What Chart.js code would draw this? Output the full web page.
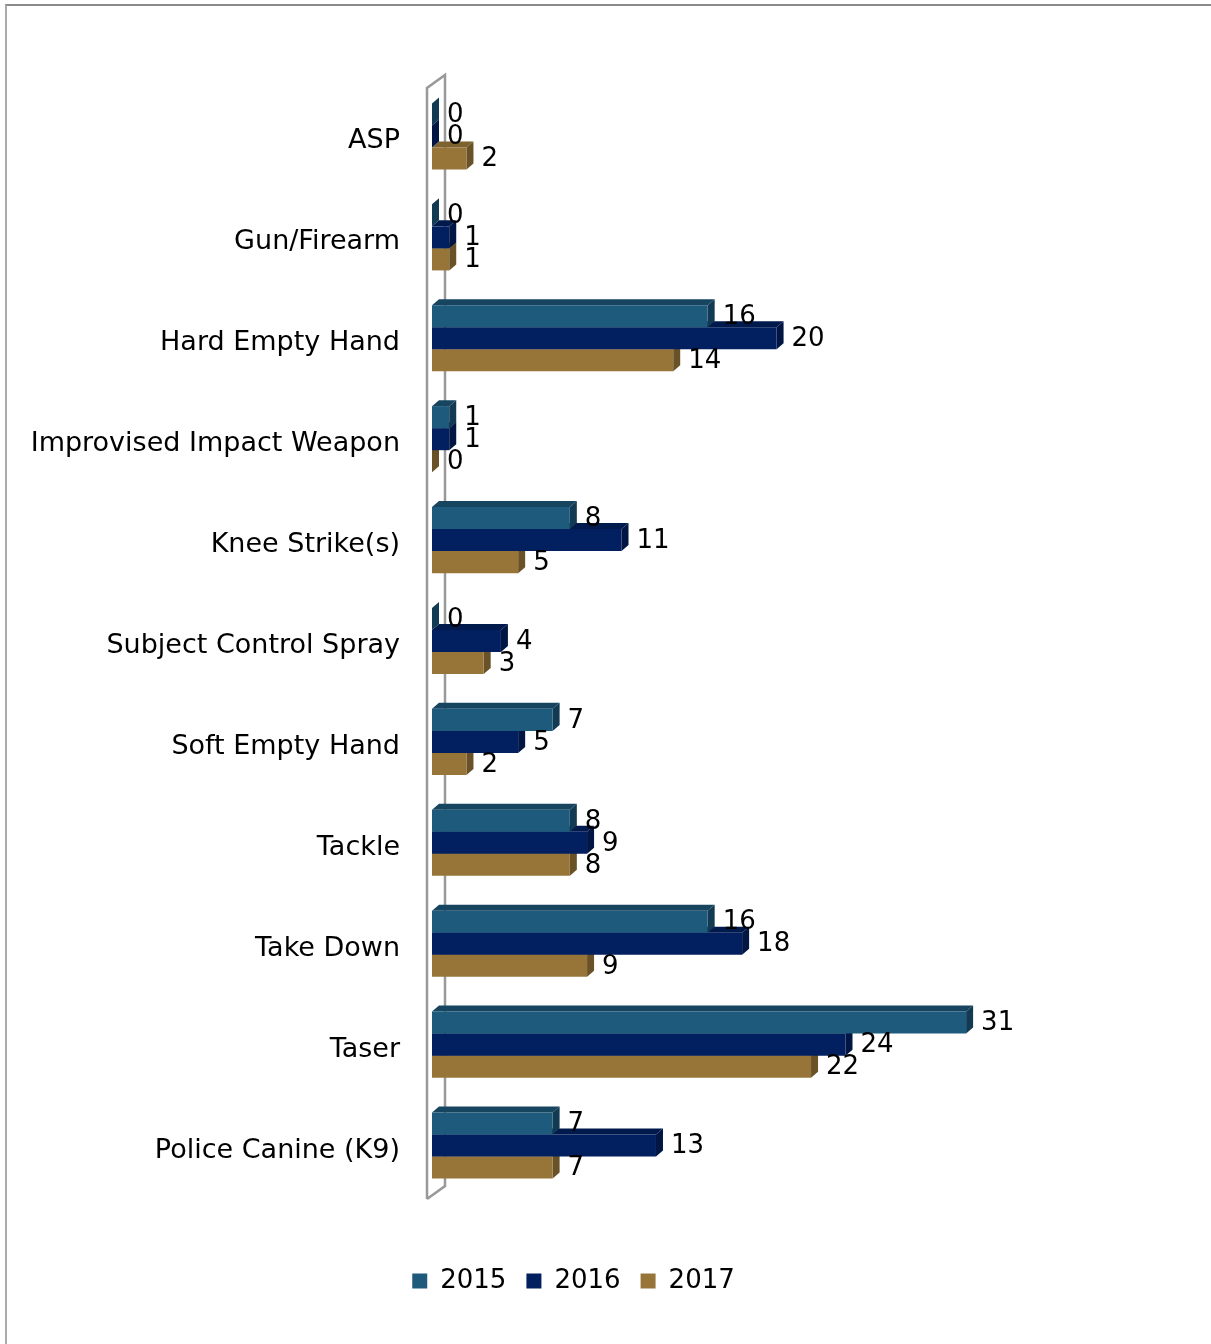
<!DOCTYPE html>
<html>
<head>
<meta charset="utf-8">
<script src="https://cdn.jsdelivr.net/npm/chart.js@4.4.1/dist/chart.umd.min.js"></script>
<style>
  html, body { margin: 0; padding: 0; background: #fff; overflow: hidden; }
  #frame { position: absolute; left: 5px; top: 4px; width: 1400px; height: 1500px;
           border-top: 2px solid #8a8a8a; border-left: 2px solid #ababab; }
  #wrap { position: absolute; left: 0; top: 0; }
</style>
</head>
<body>
<div id="frame"></div>
<div id="wrap"><canvas id="forceChart" width="1211" height="1344"></canvas></div>
<script>
const categories = [
  "ASP",
  "Gun/Firearm",
  "Hard Empty Hand",
  "Improvised Impact Weapon",
  "Knee Strike(s)",
  "Subject Control Spray",
  "Soft Empty Hand",
  "Tackle",
  "Take Down",
  "Taser",
  "Police Canine (K9)"
];
const years = ["2015", "2016", "2017"];
const values2015 = [0, 0, 16, 1, 8, 0, 7, 8, 16, 31, 7];
const values2016 = [0, 1, 20, 1, 11, 4, 5, 9, 18, 24, 13];
const values2017 = [2, 1, 14, 0, 5, 3, 2, 8, 9, 22, 7];

// front / top / side shades for each year
const frontColors = ["#1d5a7c", "#021f5f", "#977539"];
const topColors = ["#17445f", "#011a4e", "#7d612f"];
const sideColors = ["#123a52", "#011643", "#6a5228"];

const depthX = 7;
const depthY = 6;

Chart.defaults.font.family = "'DejaVu Sans', Verdana, sans-serif";
Chart.defaults.color = "#000";

// fake 3d: back wall, top and side faces of each bar, value labels
const bar3d = {
  id: "bar3d",
  beforeDatasetsDraw(chart) {
    const ctx = chart.ctx;
    const { left, top, bottom } = chart.chartArea;
    ctx.save();
    ctx.strokeStyle = "#999";
    ctx.lineWidth = 2.5;
    ctx.beginPath();
    ctx.moveTo(left - 5, bottom + 3);
    ctx.lineTo(left - 5, top + 2);
    ctx.lineTo(left + 13, top - 11);
    ctx.lineTo(left + 13, bottom - 10);
    ctx.lineTo(left - 5, bottom + 3);
    ctx.stroke();
    ctx.restore();
  },
  beforeDatasetDraw(chart, args) {
    const ctx = chart.ctx;
    const i = args.index;
    ctx.save();
    args.meta.data.forEach(bar => {
      const { x, y, base, height } = bar.getProps(["x", "y", "base", "height"], true);
      const t = y - height / 2;
      const b = y + height / 2;
      ctx.fillStyle = topColors[i];
      ctx.beginPath();
      ctx.moveTo(base, t);
      ctx.lineTo(base + depthX, t - depthY);
      ctx.lineTo(x + depthX, t - depthY);
      ctx.lineTo(x, t);
      ctx.closePath();
      ctx.fill();
      ctx.fillStyle = sideColors[i];
      ctx.beginPath();
      ctx.moveTo(x, t);
      ctx.lineTo(x + depthX, t - depthY);
      ctx.lineTo(x + depthX, b - depthY);
      ctx.lineTo(x, b);
      ctx.closePath();
      ctx.fill();
    });
    ctx.restore();
  },
  afterDatasetsDraw(chart) {
    const ctx = chart.ctx;
    ctx.save();
    ctx.font = "26px 'DejaVu Sans'";
    ctx.fillStyle = "#000";
    ctx.textAlign = "left";
    ctx.textBaseline = "middle";
    for (let d = chart.data.datasets.length - 1; d >= 0; d--) {
      const ds = chart.data.datasets[d];
      chart.getDatasetMeta(d).data.forEach((bar, j) => {
        ctx.fillText(String(ds.data[j]), bar.x + 15, bar.y + 1);
      });
    }
    ctx.restore();
  }
};

new Chart(document.getElementById("forceChart"), {
  type: "bar",
  data: {
    labels: categories,
    datasets: [
      { label: years[0], data: values2015, backgroundColor: frontColors[0] },
      { label: years[1], data: values2016, backgroundColor: frontColors[1] },
      { label: years[2], data: values2017, backgroundColor: frontColors[2] }
    ]
  },
  options: {
    indexAxis: "y",
    responsive: false,
    animation: false,
    devicePixelRatio: 1,
    categoryPercentage: 0.655,
    barPercentage: 1,
    layout: { padding: { top: 86, left: 0, right: 64, bottom: 40 } },
    scales: {
      x: {
        min: 0,
        max: 41.5,
        grid: { display: false },
        border: { display: false },
        ticks: { display: false },
        afterFit(scale) { scale.height = 52; }
      },
      y: {
        grid: { display: false, drawTicks: false },
        border: { display: false },
        ticks: { font: { size: 27 }, color: "#000", padding: 32, labelOffset: 5 },
        afterFit(scale) { scale.width = 432; }
      }
    },
    plugins: {
      legend: {
        position: "bottom",
        labels: { font: { size: 26 }, color: "#000", boxWidth: 15, boxHeight: 15, padding: 20 }
      },
      tooltip: { enabled: false }
    }
  },
  plugins: [bar3d]
});
</script>
</body>
</html>
